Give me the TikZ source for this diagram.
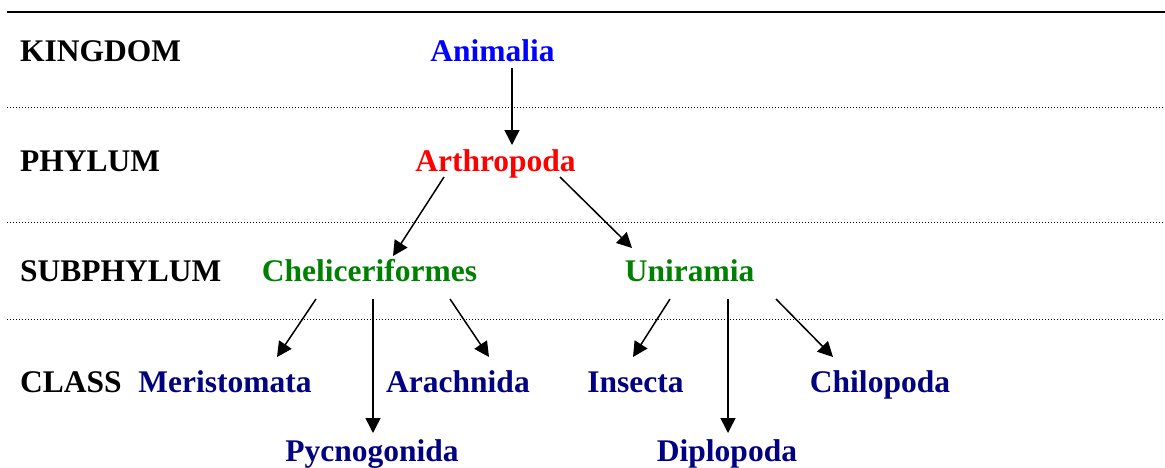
\documentclass[tikz,border=0pt]{standalone}
\usepackage{fontspec}
\setmainfont{Liberation Serif}
\usepackage{xcolor}
\usepackage{tikz}
\usetikzlibrary{calc,arrows.meta}
\definecolor{kingc}{HTML}{0000FF}
\definecolor{phylc}{HTML}{FF0000}
\definecolor{subc}{HTML}{008000}
\definecolor{classc}{HTML}{000080}
\tikzset{
  ar/.style={-{Triangle[length=15pt,width=15pt]},line width=1.5pt,black},
  sep/.style={line width=1pt,dash pattern=on 1pt off 2pt,black},
  rk/.style={anchor=base west,inner sep=0pt,font=\fontsize{31.5}{36}\selectfont\bfseries},
  tx/.style={anchor=base,inner sep=0pt,font=\fontsize{31.5}{36}\selectfont\bfseries}
}
\begin{document}
\begin{tikzpicture}[x=1pt,y=-1pt]
\useasboundingbox (0,0) rectangle (1165,467);
\draw[line width=2.2pt] (7,12)--(1165,12);
\draw[sep] (7,107)--(1165,107);
\draw[sep] (7,222)--(1165,222);
\draw[sep] (7,319)--(1165,319);
% ranks
\node[rk] (kingdom) at (20,61) {KINGDOM};
\node[rk] (phylum) at (20,171) {PHYLUM};
\node[rk] (subphylum) at (20,281) {SUBPHYLUM};
\node[rk] (class) at (20,392) {CLASS};
% taxa
\node[tx,kingc] (animalia) at (492.5,61) {Animalia};
\node[tx,phylc] (arthropoda) at (495.5,171) {Arthropoda};
\node[tx,subc] (chelic) at (369.5,281) {Cheliceriformes};
\node[tx,subc] (uniramia) at (689.5,281) {Uniramia};
\node[tx,classc] (meristomata) at (225,392) {Meristomata};
\node[tx,classc] (arachnida) at (458,392) {Arachnida};
\node[tx,classc] (insecta) at (635.5,392) {Insecta};
\node[tx,classc] (chilopoda) at (880,392) {Chilopoda};
\node[tx,classc] (pycnogonida) at (372,461) {Pycnogonida};
\node[tx,classc] (diplopoda) at (727,461) {Diplopoda};
% arrows
\draw[ar] ($(animalia.base)+(19.5,7)$) -- ($(arthropoda.base)+(16.5,-26)$);
\draw[ar] ($(arthropoda.base)+(-51.5,6)$) -- ($(chelic.base)+(23.5,-25)$);
\draw[ar] ($(arthropoda.base)+(64.5,6)$) -- ($(uniramia.base)+(-57.5,-33)$);
\draw[ar] ($(chelic.base)+(-53.5,18)$) -- ($(meristomata.base)+(52,-35)$);
\draw[ar] ($(chelic.base)+(3.5,18)$) -- ($(pycnogonida.base)+(1,-28)$);
\draw[ar] ($(chelic.base)+(80.5,18)$) -- ($(arachnida.base)+(31,-35)$);
\draw[ar] ($(uniramia.base)+(-19.5,18)$) -- ($(insecta.base)+(-2.5,-35)$);
\draw[ar] ($(uniramia.base)+(38.5,18)$) -- ($(diplopoda.base)+(1,-28)$);
\draw[ar] ($(uniramia.base)+(86.5,18)$) -- ($(chilopoda.base)+(-47,-35)$);
\end{tikzpicture}
\end{document}
